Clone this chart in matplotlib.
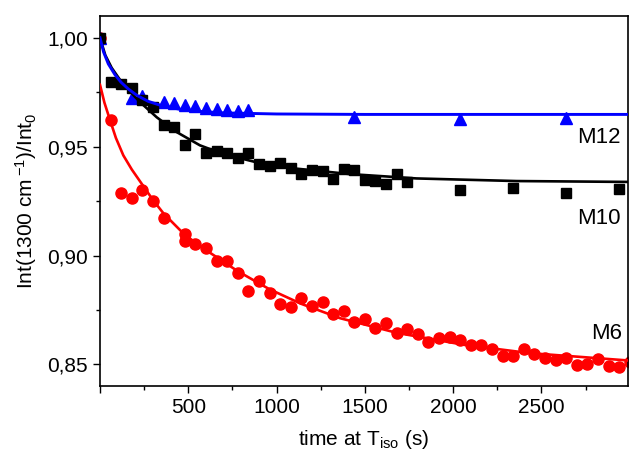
import matplotlib
matplotlib.use("Agg")
import matplotlib.pyplot as plt
from matplotlib.ticker import MultipleLocator, FuncFormatter

plt.rcParams['font.family'] = ['Liberation Sans', 'DejaVu Sans']
plt.rcParams['mathtext.fontset'] = 'custom'
plt.rcParams['mathtext.rm'] = 'Liberation Sans'
plt.rcParams['mathtext.it'] = 'Liberation Sans:italic'
plt.rcParams['mathtext.default'] = 'rm'

# M6 (red circles)
m6_t = [0, 60, 120, 180, 240, 300, 360, 480, 480] + list(range(540, 3001, 60))
m6_y = [1.000, 0.9621, 0.9285, 0.9265, 0.9302, 0.9250, 0.9173, 0.9100, 0.9067,
        0.9055, 0.9034, 0.8977, 0.8974, 0.8920, 0.8838, 0.8883, 0.8828, 0.8777,
        0.8764, 0.8803, 0.8767, 0.8787, 0.8731, 0.8745, 0.8695, 0.8708, 0.8665,
        0.8691, 0.8642, 0.8662, 0.8638, 0.8604, 0.8622, 0.8624, 0.8611, 0.8589,
        0.8589, 0.8569, 0.8538, 0.8538, 0.8569, 0.8550, 0.8528, 0.8520, 0.8528,
        0.8495, 0.8501, 0.8524, 0.8494, 0.8489, 0.8512]

# M10 (black squares)
m10_t = [0] + list(range(60, 1081, 60)) + list(range(1140, 1741, 60)) + [2040, 2340, 2640, 2940]
m10_y = [1.000, 0.9796, 0.9789, 0.9769, 0.9716, 0.9682, 0.9601, 0.9590, 0.9506,
         0.9560, 0.9472, 0.9478, 0.9471, 0.9450, 0.9471, 0.9419, 0.9411, 0.9425,
         0.9403, 0.9376, 0.9394, 0.9388, 0.9353, 0.9399, 0.9391, 0.9345, 0.9342,
         0.9330, 0.9376, 0.9338, 0.9303, 0.9312, 0.9289, 0.9307]

# M12 (blue triangles)
m12_t = [0, 180, 240, 360, 420, 480, 540, 600, 660, 720, 780, 840, 1440, 2040, 2640]
m12_y = [1.000, 0.9725, 0.9731, 0.9705, 0.9700, 0.9690, 0.9685, 0.9679, 0.9674,
         0.9670, 0.9663, 0.9670, 0.9636, 0.9628, 0.9630]

# fitted curves
m6_fit_t = [0, 25, 57, 90, 132, 180, 240, 300, 360, 480, 600, 780, 960, 1140,
            1360, 1680, 2060, 2430, 2990]
m6_fit_y = [0.9784, 0.9702, 0.9621, 0.9540, 0.9460, 0.9395, 0.9325, 0.9255,
            0.9193, 0.9095, 0.9025, 0.8928, 0.8845, 0.8778, 0.8712, 0.8645,
            0.8590, 0.8552, 0.8518]
m10_fit_t = [0, 30, 66, 132, 226, 321, 434, 566, 698, 887, 1100, 1415, 1792, 2358, 2990]
m10_fit_y = [1.000, 0.9920, 0.9862, 0.9785, 0.9705, 0.9635, 0.9567, 0.9506,
             0.9466, 0.9428, 0.9400, 0.9374, 0.9354, 0.9342, 0.9338]
m12_fit_t = [0, 20, 47, 85, 120, 160, 210, 273, 350, 450, 540, 700, 1000, 1500, 2000, 2990]
m12_fit_y = [1.000, 0.9935, 0.9880, 0.9830, 0.9795, 0.9765, 0.9735, 0.9708,
             0.9688, 0.9672, 0.9663, 0.9655, 0.9650, 0.9648, 0.9648, 0.9648]

fig = plt.figure(figsize=(6.29, 4.57), dpi=100)
ax = fig.add_axes([0.159, 0.155, 0.8394, 0.81])

ax.plot(m6_t, m6_y, 'o', color='red', ms=8, mec='red', zorder=2)
ax.plot(m6_fit_t, m6_fit_y, '-', color='red', lw=1.9, zorder=3)
ax.plot(m12_t, m12_y, '^', color='blue', ms=8, mec='blue', zorder=2)
ax.plot(m10_t, m10_y, 's', color='black', ms=7.3, zorder=2)
ax.plot(m10_fit_t, m10_fit_y, '-', color='black', lw=1.9, zorder=3)
ax.plot(m12_fit_t, m12_fit_y, '-', color='blue', lw=2.1, zorder=3)

ax.text(2950, 0.9543, 'M12', ha='right', va='center', fontsize=16)
ax.text(2950, 0.9171, 'M10', ha='right', va='center', fontsize=16)
ax.text(2955, 0.8644, 'M6', ha='right', va='center', fontsize=16)

ax.set_xlim(0, 2990)
ax.set_ylim(0.84, 1.01)
ax.xaxis.set_major_locator(MultipleLocator(500))
ax.xaxis.set_minor_locator(MultipleLocator(250))
ax.yaxis.set_major_locator(MultipleLocator(0.05))
ax.yaxis.set_minor_locator(MultipleLocator(0.025))
ax.xaxis.set_major_formatter(FuncFormatter(lambda v, p: '' if v == 0 else '%d' % v))
ax.yaxis.set_major_formatter(FuncFormatter(lambda v, p: ('%.2f' % v).replace('.', ',')))
ax.tick_params(which='major', length=5, width=1, labelsize=15, direction='out')
ax.tick_params(which='minor', length=3, width=1, direction='out')
for s in ax.spines.values():
    s.set_linewidth(1.2)

ax.set_xlabel(r'time at T$_{\mathrm{iso}}$ (s)', fontsize=15, labelpad=8)
ax.set_ylabel(r'Int(1300 cm$\,^{-1}$)/Int$_0$', fontsize=15, labelpad=6)

fig.savefig('out.png', dpi=100)
